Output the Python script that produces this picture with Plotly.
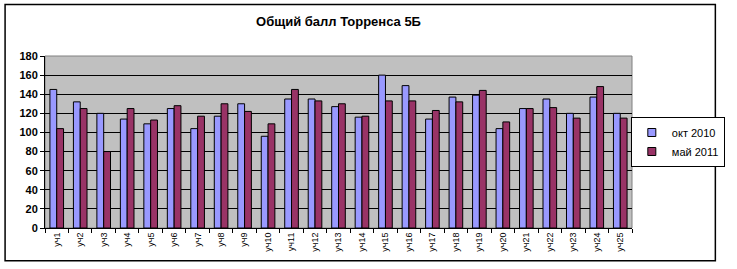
import plotly.graph_objects as go

categories = [f"уч{i}" for i in range(1, 26)]
oct_2010 = [145, 132, 120, 114, 109, 125, 104, 117, 130, 96, 135, 135, 127, 116, 160,
            149, 114, 137, 139, 104, 125, 135, 120, 137, 120]
may_2011 = [104, 125, 80, 125, 113, 128, 117, 130, 122, 109, 145, 133, 130, 117, 133,
            133, 123, 132, 144, 111, 125, 126, 115, 148, 115]
y_ticks = [0, 20, 40, 60, 80, 100, 120, 140, 160, 180]
series_names = ["окт 2010", "май 2011"]
series_colors = ["#9999FF", "#993366"]

FONT = "Liberation Sans, Arial, sans-serif"

fig = go.Figure()
for name, vals, col in zip(series_names, [oct_2010, may_2011], series_colors):
    fig.add_trace(go.Bar(x=categories, y=vals, name=name, showlegend=False, legendgroup=name,
                         marker=dict(color=col, line=dict(color="black", width=1))))
for name, col in zip(series_names, series_colors):
    fig.add_trace(go.Scatter(x=[None], y=[None], mode="markers", name=name, legendgroup=name,
                             marker=dict(symbol="square", size=8, color=col,
                                         line=dict(color="black", width=1))))

fig.update_layout(
    width=737, height=269,
    margin=dict(l=45, r=90, t=56, b=41),
    paper_bgcolor="white", plot_bgcolor="#C0C0C0",
    barmode="group", bargap=0.42, bargroupgap=0,
    font=dict(family=FONT, color="black"),
    title=dict(text="<b>Общий балл Торренса 5Б</b>", x=0.5, xref="paper", xanchor="center",
               y=0.92, yanchor="middle", font=dict(size=13, family=FONT)),
    legend=dict(x=0.998, y=0.5, xanchor="left", yanchor="middle",
                bordercolor="black", borderwidth=1, bgcolor="white",
                font=dict(size=11, family=FONT), itemwidth=30, tracegroupgap=0),
    showlegend=True,
)
fig.update_xaxes(type="category", tickangle=-90, tickfont=dict(size=9, family=FONT),
                 showline=True, linecolor="black", linewidth=1,
                 ticks="outside", ticklen=4, tickcolor="black", tickson="boundaries",
                 showgrid=False)
fig.update_yaxes(range=[0, 180], tickvals=y_ticks, tickfont=dict(size=11, family=FONT, weight="bold"),
                 showline=True, linecolor="black", linewidth=1, mirror=False,
                 ticks="outside", ticklen=4, tickcolor="black",
                 showgrid=True, gridcolor="black", gridwidth=1, zeroline=False)

# outer chart border and plot frame
fig.add_shape(type="rect", xref="paper", yref="paper", x0=-0.068, x1=1.142, y0=-0.19, y1=1.3,
              line=dict(color="black", width=1.5), fillcolor="rgba(0,0,0,0)", layer="above")
fig.add_shape(type="rect", xref="paper", yref="paper", x0=0, x1=1, y0=0, y1=1,
              line=dict(color="#808080", width=1), fillcolor="rgba(0,0,0,0)", layer="below")

fig.write_html("out.html")
